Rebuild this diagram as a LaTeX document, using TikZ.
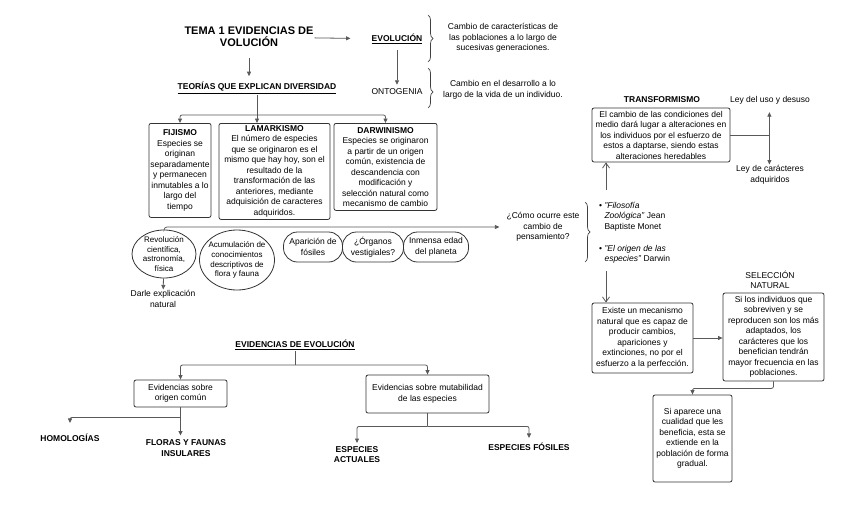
\documentclass[tikz,border=0pt]{standalone}
\usepackage{fontspec}
\setmainfont{Liberation Sans}
\usetikzlibrary{arrows.meta,shapes.geometric,decorations.pathreplacing}

\newcommand{\mapfont}{\fontsize{8.5}{10.5}\selectfont}
\newcommand{\mapbold}{\fontsize{8.5}{10.5}\selectfont\bfseries}

\tikzset{
  box/.style={draw=black!80, line width=0.8pt, rounded corners=2pt, align=center, inner sep=1pt, font=\mapfont},
  oval/.style={draw=black!80, line width=0.8pt, ellipse, align=center, inner sep=-8pt, font=\fontsize{8}{9.8}\selectfont},
  pill/.style={draw=black!80, line width=0.8pt, rounded corners=14pt, align=center, inner sep=1pt, font=\mapfont},
  lbl/.style={align=center, inner sep=1pt, font=\mapfont},
  hd/.style={align=center, inner sep=1pt, font=\mapbold},
  ln/.style={draw=black!65, line width=0.8pt},
  arr/.style={ln, -{Triangle[length=4.5pt,width=4pt]}},
  oarr/.style={ln, -{Straight Barb[length=5pt,width=7pt]}},
  brc/.style={draw=black!75, line width=0.7pt, decorate, decoration={brace, amplitude=5pt}},
}

\begin{document}
\begin{tikzpicture}[x=1pt, y=-1pt]
  \useasboundingbox (0,0) rectangle (848,506);

  % header
  \node[hd, font=\fontsize{11}{12}\selectfont\bfseries] (title) at (249,37) {TEMA 1 EVIDENCIAS DE\\VOLUCIÓN};
  \node[hd] (evol) at (397,39) {\underline{EVOLUCIÓN}};
  \node[lbl] (onto) at (397,92) {ONTOGENIA};
  \node[lbl] (evoldef) at (503,38) {Cambio de características de\\las poblaciones a lo largo de\\sucesivas generaciones.};
  \node[lbl] (ontodef) at (503,90) {Cambio en el desarrollo a lo\\largo de la vida de un individuo.};
  \draw[arr, shorten >=20pt] (title) -- (evol);
  \draw[arr, shorten <=5pt, shorten >=3pt] (evol) -- (onto);
  \draw[brc] (428,15) -- (428,62);
  \draw[brc, decoration={aspect=0.6}] (428,68) -- (428,108);

  % teorias
  \node[hd] (teorias) at (257,88) {\underline{TEORÍAS QUE EXPLICAN DIVERSIDAD}};
  \draw[arr, shorten <=10pt, shorten >=5pt] (title) -- (title |- teorias.north);

  \node[box, minimum width=62, minimum height=94, anchor=north] (fij) at (180,123)
    {\textbf{FIJISMO}\\Especies se\\originan\\separadamente\\y permanecen\\inmutables a lo\\largo del\\tiempo};
  \node[box, minimum width=111, minimum height=96, anchor=north] (lam) at (274.5,123)
    {\textbf{LAMARKISMO}\\El número de especies\\que se originaron es el\\mismo que hay hoy, son el\\resultado de la\\transformación de las\\anteriores, mediante\\adquisición de caracteres\\adquiridos.};
  \node[box, minimum width=103, minimum height=87, anchor=north] (dar) at (385.5,123)
    {\textbf{DARWINISMO}\\Especies se originaron\\a partir de un origen\\común, existencia de\\descandencia con\\modificación y\\selección natural como\\mecanismo de cambio};
  \coordinate (tbus) at (257,115);
  \draw[ln] (teorias.south) -- (tbus);
  \draw[arr, rounded corners=2pt] (tbus) -| (fij.north);
  \draw[arr] (tbus) -- (tbus |- lam.north);
  \draw[arr, rounded corners=2pt] (tbus) -| (dar.north);

  % ideas previas
  \node[oval, minimum width=64, minimum height=48] (rev) at (164,254) {Revolución\\científica,\\astronomía,\\física};
  \node[oval, minimum width=75, minimum height=60] (acu) at (237,260) {Acumulación de\\conocimientos\\descriptivos de\\flora y fauna};
  \node[pill, minimum width=59, minimum height=30] (apa) at (313,247) {Aparición de\\fósiles};
  \node[pill, minimum width=61, minimum height=30] (org) at (373,247) {¿Órganos\\vestigiales?};
  \node[pill, minimum width=65, minimum height=30] (inm) at (436,247) {Inmensa edad\\del planeta};
  \node[lbl] (darle) at (163,299) {Darle explicación\\natural};
  \draw[arr] (rev) -- (darle);

  \node[lbl] (como) at (543,227) {¿Cómo ocurre este\\cambio de\\pensamiento?};
  \draw[arr, rounded corners=3pt, shorten >=6pt] (rev.north) |- (como.west);
  \draw[brc] (585,202) -- (585,262);

  \node[lbl, align=left, anchor=north west] (bul1) at (598,201)
    {\textbullet\ \textit{"Filosofía}\\\phantom{\textbullet\ }\textit{Zoológica"} Jean\\\phantom{\textbullet\ }Baptiste Monet};
  \node[lbl, align=left, anchor=north west] (bul2) at (598,244)
    {\textbullet\ \textit{"El origen de las}\\\phantom{\textbullet\ }\textit{especies"} Darwin};

  % transformismo
  \node[hd] (transhd) at (662,100) {TRANSFORMISMO};
  \node[box, minimum width=138, minimum height=54] (trans) at (661,135)
    {El cambio de las condiciones del\\medio dará lugar a alteraciones en\\los individuos por el esfuerzo de\\estos a daptarse, siendo estas\\alteraciones heredables};
  \node[lbl] (uso) at (770,100) {Ley del uso y desuso};
  \node[lbl] (adq) at (770,175) {Ley de carácteres\\adquiridos};
  \draw[ln] (trans.east) -- ++(39,0) coordinate (ley);
  \draw[arr, shorten >=7pt] (ley) -- (ley |- uso.south);
  \draw[arr] (ley) -- (ley |- adq.north);

  \coordinate (bultop) at (606,190);
  \coordinate (bulbot) at (606,271);
  \draw[oarr] (bultop) -- (bultop |- trans.south);

  % seleccion natural
  \node[box, minimum width=101, minimum height=70] (mec) at (642.5,338)
    {Existe un mecanismo\\natural que es capaz de\\producir cambios,\\apariciones y\\extinciones, no por el\\esfuerzo a la perfección.};
  \draw[oarr] (bulbot) -- (bulbot |- mec.north);
  \node[lbl] (selhd) at (770,280) {SELECCIÓN\\NATURAL};
  \node[box, minimum width=101, minimum height=88] (sel) at (773.5,337)
    {Si los individuos que\\sobreviven y se\\reproducen son los más\\adaptados, los\\carácteres que los\\benefician tendrán\\mayor frecuencia en las\\poblaciones.};
  \draw[arr] (mec.east) -- (mec.east -| sel.west);
  \node[box, minimum width=79, minimum height=87] (grad) at (692.5,438.5)
    {Si aparece una\\cualidad que les\\beneficia, esta se\\extiende en la\\población de forma\\gradual.};
  \draw[arr, rounded corners=2pt] (sel.south) -- ++(0,7) -| (grad.north);

  % evidencias
  \node[hd] (evid) at (295,345) {\underline{EVIDENCIAS DE EVOLUCIÓN}};
  \coordinate (ebus) at (295,365);
  \node[box, minimum width=93, minimum height=27] (orig) at (180.5,393.5) {Evidencias sobre\\origen común};
  \node[box, minimum width=123, minimum height=38] (mut) at (427.5,394) {Evidencias sobre mutabilidad\\de las especies};
  \draw[ln] (evid.south) -- (ebus);
  \draw[arr, rounded corners=2pt] (ebus) -| (orig.north);
  \draw[arr, rounded corners=2pt] (ebus) -| (mut.north);

  \node[hd] (homo) at (70,438) {HOMOLOGÍAS};
  \node[hd] (flor) at (186,448) {FLORAS Y FAUNAS\\INSULARES};
  \node[hd] (act) at (357,454.5) {ESPECIES\\ACTUALES};
  \node[hd] (fos) at (529,447) {ESPECIES FÓSILES};
  \draw[ln] (orig.south) -- ++(0,10) coordinate (og);
  \draw[arr, rounded corners=2pt, shorten >=10pt] (og) -| (homo.north);
  \draw[arr, shorten >=3pt] (og) -- (og |- flor.north);
  \draw[ln] (mut.south) -- ++(0,13) coordinate (mg);
  \draw[arr, rounded corners=2pt, shorten >=2pt] (mg) -| (act.north);
  \draw[arr, rounded corners=2pt, shorten >=4pt] (mg) -| (fos.north);
\end{tikzpicture}
\end{document}
